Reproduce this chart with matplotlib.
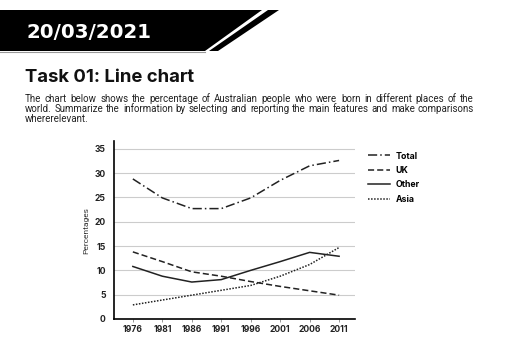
import matplotlib.pyplot as plt
from matplotlib.patches import Polygon

# data
years = [1976, 1981, 1986, 1991, 1996, 2001, 2006, 2011]
total = [28.8, 24.9, 22.7, 22.7, 24.9, 28.5, 31.5, 32.6]
uk = [13.8, 11.8, 9.7, 8.8, 7.7, 6.7, 5.8, 4.9]
other = [10.8, 8.8, 7.6, 8.1, 10.0, 11.8, 13.7, 12.9]
asia = [2.9, 3.9, 4.9, 5.9, 6.9, 8.8, 11.2, 14.7]
y_ticks = [0, 5, 10, 15, 20, 25, 30, 35]

date_text = "20/03/2021"
title_text = "Task 01: Line chart"
para_lines = [
    "The chart below shows the percentage of Australian people who were born in different places of the",
    "world. Summarize the information by selecting and reporting the main features and make comparisons",
    "whererelevant.",
]

W, H = 512, 352
fig = plt.figure(figsize=(W / 100, H / 100), dpi=100)

# page layer in pixel coordinates
bg = fig.add_axes([0, 0, 1, 1])
bg.set_xlim(0, W)
bg.set_ylim(H, 0)
bg.axis("off")

bg.add_patch(Polygon([(0, 10), (262, 10), (205, 51), (0, 51)], closed=True, color="black", lw=0))
bg.add_patch(Polygon([(268, 10), (279, 10), (218, 51), (209, 51)], closed=True, color="black", lw=0))
bg.plot([0, 205], [51.5, 51.5], color="#9a9a9a", lw=0.8)

bg.text(27, 38.5, date_text, color="white", fontsize=14.2, fontweight="bold",
        family="DejaVu Sans", va="baseline", ha="left")
bg.text(25, 82, title_text, color="#111111", fontsize=13.3, fontweight="bold",
        family="Inter", va="baseline", ha="left")

# justified paragraph: pick the size so that the first line fits with normal spaces
fig.canvas.draw()
renderer = fig.canvas.get_renderer()
left, right = 25, 474
probe = bg.text(0, 0, para_lines[0], fontsize=7, family="Roboto")
fs = 7 * (right - left) / probe.get_window_extent(renderer).width * 0.96
probe.remove()

baselines = [101.5, 112, 122.5]
for k, line in enumerate(para_lines):
    words = line.split(" ")
    if k == len(para_lines) - 1:
        bg.text(left, baselines[k], line, fontsize=fs, family="Roboto",
                color="#222222", va="baseline", ha="left")
        continue
    arts = [bg.text(0, baselines[k], w, fontsize=fs, family="Roboto",
                    color="#222222", va="baseline", ha="left") for w in words]
    widths = [a.get_window_extent(renderer).width for a in arts]
    gap = (right - left - sum(widths)) / (len(words) - 1)
    x = left
    for a, w in zip(arts, widths):
        a.set_x(x)
        x += w + gap

# the chart
ax = fig.add_axes([114 / W, 1 - 319 / H, (355 - 114) / W, (319 - 141) / H])
ax.plot(years, total, color="#222222", lw=1.1, linestyle=(0, (6, 2, 1, 2)), label="Total")
ax.plot(years, uk, color="#222222", lw=1.1, linestyle=(0, (4, 2)), label="UK")
ax.plot(years, other, color="#222222", lw=1.1, linestyle="-", label="Other")
ax.plot(years, asia, color="#222222", lw=1.1, linestyle=(0, (1, 1)), label="Asia")

ax.set_xlim(1972.8, 2013.7)
ax.set_ylim(0, 36.6)
ax.set_xticks(years)
ax.set_xticklabels([str(y) for y in years], fontsize=6.2, fontweight="bold", family="Inter", color="#222222")
ax.set_yticks(y_ticks)
ax.set_yticklabels([str(v) for v in y_ticks], fontsize=6.2, fontweight="bold", family="Inter", color="#222222")
ax.tick_params(axis="y", length=0, pad=6)
ax.tick_params(axis="x", length=2, width=0.6, pad=2, color="#888888")
ax.grid(axis="y", color="#cccccc", lw=0.8)
ax.set_axisbelow(True)
for s in ["top", "right"]:
    ax.spines[s].set_visible(False)
ax.spines["left"].set_linewidth(1.2)
ax.spines["bottom"].set_linewidth(1.2)
ax.set_ylabel("Percentages", fontsize=6, family="Roboto", color="#333333", labelpad=4)

leg = ax.legend(loc="upper left", bbox_to_anchor=(1.02, 0.985), frameon=False,
                prop={"family": "Inter", "weight": "bold", "size": 6.3},
                handlelength=2.6, labelspacing=0.62, handletextpad=0.6)

fig.savefig("out.png", dpi=100)
